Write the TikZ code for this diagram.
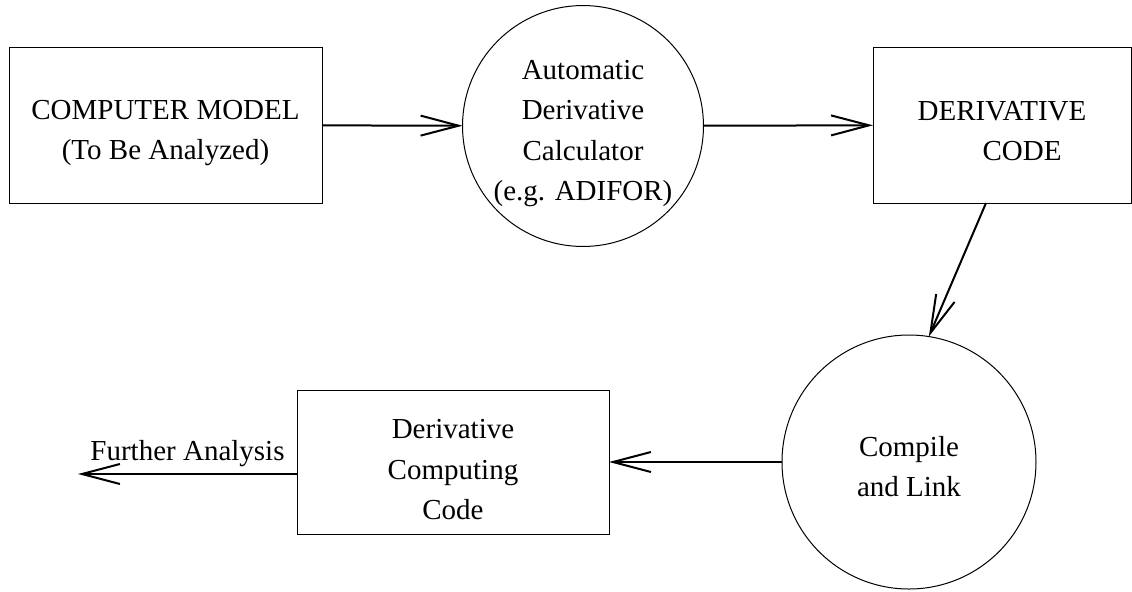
\documentclass[tikz,border=0pt]{standalone}
\usepackage{fontspec}
\setmainfont{Liberation Serif}
\usetikzlibrary{arrows.meta}
\tikzset{>={Straight Barb[length=19pt,width=10pt]}}
\tikzset{
  block/.style={draw,line width=0.5pt,outer sep=0pt,inner sep=0pt,align=center,font=\fontsize{14.5}{20.3}\selectfont},
  proc/.style={circle,draw,line width=0.5pt,outer sep=0pt,inner sep=0pt,align=center,font=\fontsize{14.5}{20.3}\selectfont},
  flow/.style={->,line width=1pt}
}

\begin{document}
\begin{tikzpicture}[x=0.5pt,y=-0.5pt]
  \useasboundingbox (0,0) rectangle (1132,591);
  % Nodes
  \node[block,minimum width=156.5pt,minimum height=78pt,text height=38pt] (model) at (165.5,125) {COMPUTER MODEL\\(To Be Analyzed)};
  \node[proc,minimum size=120pt,text height=78pt] (adifor) at (583,126) {Automatic\\Derivative\\Calculator\\(e.g. ADIFOR)};
  \node[block,minimum width=129pt,minimum height=78pt,text height=36pt] (deriv) at (1002,125) {DERIVATIVE\\\hspace*{20pt}CODE};
  \node[proc,minimum size=127pt,text height=35pt] (link) at (909,462) {Compile\\and Link};
  \node[block,minimum width=156pt,minimum height=72pt,text height=58pt] (comp) at (453,462) {Derivative\\Computing\\Code};
  \coordinate (out) at (78,474);
  % Lines
  \draw[flow] (model) -- (adifor);
  \draw[flow] (adifor) -- (deriv);
  \draw[flow] ([xshift=-8pt]deriv.south) -- (link.81.5);
  \draw[flow] (link) -- (comp);
  \draw[flow] ([yshift=-6pt]comp.west) -- (out)
    node[above,midway,inner sep=3pt,font=\fontsize{14.5}{20}\selectfont] (further) {Further Analysis};
\end{tikzpicture}
\end{document}
